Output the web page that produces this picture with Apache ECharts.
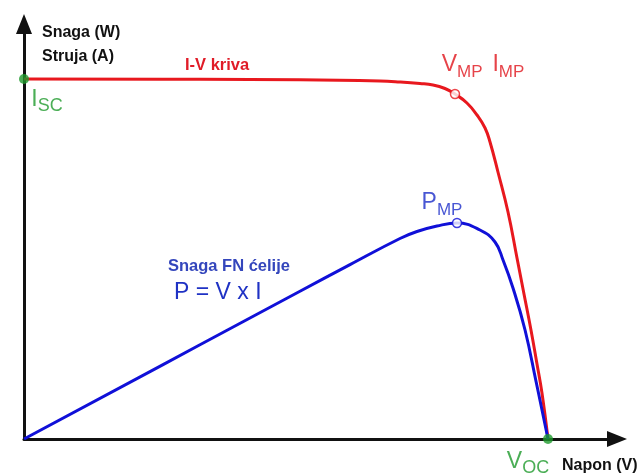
<!DOCTYPE html>
<html>
<head>
<meta charset="utf-8">
<script src="https://cdn.jsdelivr.net/npm/echarts@6/dist/echarts.min.js"></script>
<style>
	html, body { margin: 0; padding: 0; background: #fff; }
	#chart { width: 643px; height: 475px; }
</style>
</head>
<body>
<div id="chart"></div>
<script>
// I-V kriva (napon u V, struja u A)
const ivVoltage = [0, 0.2015, 0.316, 0.4076, 0.4305, 0.4534, 0.4683, 0.482, 0.4935, 0.5072, 0.5187, 0.5279, 0.5336, 0.5427, 0.5542, 0.5645, 0.5725, 0.5805, 0.5874, 0.5931, 0.6];
const ivCurrent = [3.6, 3.597, 3.593, 3.58, 3.57, 3.555, 3.54, 3.505, 3.45, 3.36, 3.24, 3.11, 2.97, 2.67, 2.27, 1.81, 1.45, 1.09, 0.75, 0.46, 0];
// snaga FN ćelije
const powerVoltage = [0, 0.2015, 0.316, 0.3733, 0.4305, 0.45, 0.4729, 0.4958, 0.5221, 0.5393, 0.5485, 0.5599, 0.5737, 0.5862, 0.6];
const power = [0, 0.942, 1.477, 1.744, 2.005, 2.075, 2.13, 2.16, 2.09, 1.97, 1.79, 1.51, 1.09, 0.58, 0];
// karakteristične tačke
const isc = [0, 3.6];
const voc = [0.6, 0];
const mppIV = [0.4935, 3.45];
const mppPower = [0.4958, 2.16];

const FONT = "Liberation Sans, Arial, sans-serif";
const RED = "#e8181e";
const BLUE = "#1010d8";
const GREEN = "#1e9a2c";

const rich = {
	b: { fontSize: 23, lineHeight: 27, verticalAlign: "top", fontFamily: FONT },
	s: { fontSize: 17, lineHeight: 17, verticalAlign: "bottom", fontFamily: FONT },
	s2: { fontSize: 18, lineHeight: 18, verticalAlign: "bottom", fontFamily: FONT },
	g: { width: 10 }
};

const ivData = ivVoltage.map((v, i) => [v, ivCurrent[i]]);
const powerData = powerVoltage.map((v, i) => [v, power[i]]);

const myChart = echarts.init(document.getElementById("chart"));
const axisLine = {
	show: true,
	symbol: ["none", "path://M0,-10L8,10L-8,10Z"],
	symbolSize: [16, 21],
	lineStyle: { color: "#111", width: 3 }
};
const option = {
	animation: false,
	backgroundColor: "#fff",
	grid: { left: 24, right: 26, top: 24, bottom: 36 },
	xAxis: {
		type: "value", min: 0, max: 0.679,
		axisLine: axisLine,
		axisTick: { show: false }, axisLabel: { show: false }, splitLine: { show: false }
	},
	yAxis: {
		type: "value", min: 0, max: 4.15,
		axisLine: axisLine,
		axisTick: { show: false }, axisLabel: { show: false }, splitLine: { show: false }
	},
	graphic: [
		{ type: "text", left: 42, top: 21, style: { text: "Snaga (W)\nStruja (A)", font: "bold 16px " + FONT, lineHeight: 24, fill: "#111" } },
		{ type: "text", left: 185, top: 57, style: { text: "I-V kriva", font: "bold 16.5px " + FONT, fill: "#e01c28" } },
		{ type: "text", left: 168, top: 258, style: { text: "Snaga FN ćelije", font: "bold 16.5px " + FONT, fill: "#3446bc" } },
		{ type: "text", left: 174, top: 281, style: { text: "P = V x I", font: "23px " + FONT, fill: "#1f32c4" } },
		{ type: "text", left: 562, top: 458, style: { text: "Napon (V)", font: "bold 16px " + FONT, fill: "#111" } }
	],
	series: [
		{
			type: "line", data: ivData, smooth: 0.45, symbol: "none", z: 2,
			lineStyle: { color: RED, width: 3 }
		},
		{
			type: "line", data: powerData, smooth: 0.45, symbol: "none", z: 3,
			lineStyle: { color: BLUE, width: 3 }
		},
		{
			type: "scatter", symbolSize: 9, z: 5, silent: true,
			itemStyle: { color: "#fff", borderWidth: 1.5 },
			label: { show: true, position: "inside", fontFamily: FONT, rich: rich },
			data: [
				{ value: mppIV, itemStyle: { borderColor: RED },
					label: { formatter: "{b|V}{s|MP}{g|}{b|I}{s|MP}", color: "#e0141c", offset: [28, -27] } },
				{ value: mppPower, itemStyle: { borderColor: BLUE },
					label: { formatter: "{b|P}{s|MP}", color: "#1a2cc8", offset: [-15, -18] } }
			]
		},
		{
			type: "scatter", symbolSize: 10, z: 6, silent: true,
			itemStyle: { color: GREEN },
			label: { show: true, position: "inside", color: "#1e9a2c", fontFamily: FONT, rich: rich },
			data: [
				{ value: isc, label: { formatter: "{b|I}{s2|SC}", offset: [23, 23] } },
				{ value: voc, label: { formatter: "{b|V}{s2|OC}", offset: [-20, 25] } }
			]
		}
	]
};
myChart.setOption(option);
</script>
</body>
</html>
